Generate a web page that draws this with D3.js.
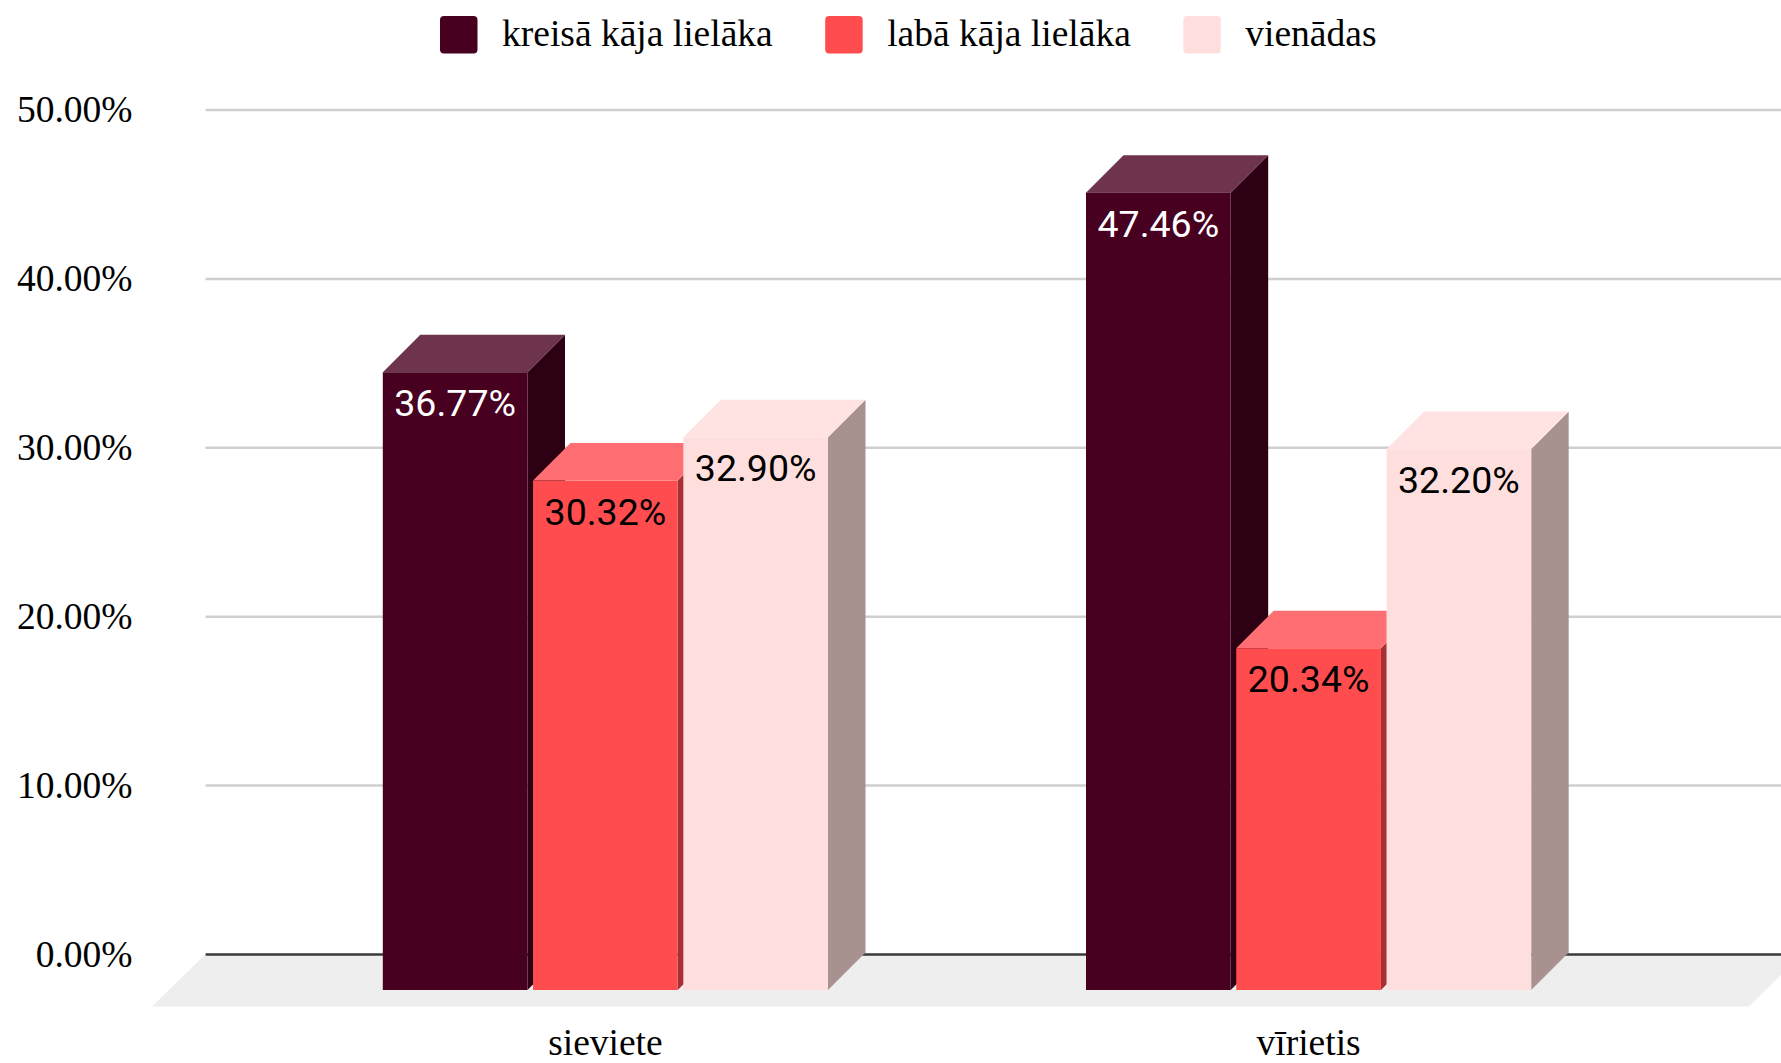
<!DOCTYPE html>
<html>
  <head>
    <meta charset="utf-8" />
    <script src="https://d3js.org/d3.v7.min.js"></script>
    <style>
      html, body { margin: 0; padding: 0; background: #fff; }
      svg { display: block; }
    </style>
    <title>Kāja</title>
  </head>
  <body>
    <svg id="chart" width="1781" height="1063"></svg>
    <script>
      // data
      var categories = ["sieviete", "vīrietis"];
      var seriesNames = ["kreisā kāja lielāka", "labā kāja lielāka", "vienādas"];
      var kreisa = [36.77, 47.46];
      var laba = [30.32, 20.34];
      var vienadas = [32.9, 32.2];
      var seriesValues = [kreisa, laba, vienadas];
      var yTicks = [0, 10, 20, 30, 40, 50];

      // front, top and side colour of each series
      var frontColors = ["#480021", "#ff4d4f", "#ffdfdd"];
      var topColors = ["#6e334d", "#ff6e72", "#ffe3e2"];
      var sideColors = ["#2e0014", "#a63034", "#a8928f"];
      var labelColors = ["#ffffff", "#000000", "#000000"];

      var serif = "'Liberation Serif', serif";
      var svg = d3.select("#chart");
      var depthX = 37.5;
      var depthY = 37.5;
      var gridLeft = 205.6;
      var gridRight = 1781;

      var xCat = d3.scaleBand().domain(categories).range([253.8, 1660.2]);
      var xSeries = d3
        .scaleBand()
        .domain(d3.range(seriesNames.length))
        .range([-222.6, 222.6])
        .paddingInner(0.0372);

      // gridlines sit on the back wall, the bars stand on the front of the floor
      var yGrid = d3.scaleLinear().domain([0, 50]).range([954, 109.5]);
      var yBar = d3.scaleLinear().domain([0, 50]).range([990, 150]);

      // floor
      svg
        .append("path")
        .attr(
          "d",
          d3.line()([
            [gridLeft, yGrid(0)],
            [gridRight, yGrid(0)],
            [gridRight, 975],
            [1749, 1006.5],
            [152, 1006.5],
          ]) + "Z"
        )
        .attr("fill", "#eeeeee");

      // y axis + gridlines
      var yAxis = d3
        .axisLeft(yGrid)
        .tickValues(yTicks)
        .tickSize(0)
        .tickPadding(73)
        .tickFormat((d) => d3.format(".2f")(d) + "%");

      var yG = svg
        .append("g")
        .attr("transform", "translate(" + gridLeft + ",0)")
        .call(yAxis);
      yG.select(".domain").remove();
      yG.selectAll("text")
        .style("font-family", serif)
        .style("font-size", "37.5px")
        .style("fill", "#000");
      yG.selectAll(".tick")
        .append("line")
        .attr("x1", 0)
        .attr("x2", gridRight - gridLeft)
        .attr("stroke", (d) => (d === 0 ? "#3a3a3a" : "#cfcfcf"))
        .attr("stroke-width", 2.5);

      // bars, one series after the other so that later ones cover earlier sides
      seriesNames.forEach(function (name, s) {
        categories.forEach(function (cat, c) {
          var v = seriesValues[s][c];
          var x0 = xCat(cat) + xCat.bandwidth() / 2 + xSeries(s);
          var x1 = x0 + xSeries.bandwidth();
          var yt = yBar(v);
          var yb = yBar(0);
          var g = svg.append("g");

          g.append("path")
            .attr(
              "d",
              d3.line()([
                [x1, yt],
                [x1 + depthX, yt - depthY],
                [x1 + depthX, yb - depthY],
                [x1, yb],
              ]) + "Z"
            )
            .attr("fill", sideColors[s]);
          g.append("path")
            .attr(
              "d",
              d3.line()([
                [x0, yt],
                [x0 + depthX, yt - depthY],
                [x1 + depthX, yt - depthY],
                [x1, yt],
              ]) + "Z"
            )
            .attr("fill", topColors[s]);
          g.append("rect")
            .attr("x", x0)
            .attr("y", yt)
            .attr("width", x1 - x0)
            .attr("height", yb - yt)
            .attr("fill", frontColors[s]);
          g.append("text")
            .attr("x", (x0 + x1) / 2)
            .attr("y", yt + 44)
            .attr("text-anchor", "middle")
            .style("font-family", "Roboto, sans-serif")
            .style("font-size", "37.5px")
            .style("fill", labelColors[s])
            .text(d3.format(".2f")(v) + "%");
        });
      });

      // category labels
      var xAxis = d3.axisBottom(xCat).tickSize(0).tickPadding(21.5);
      var xG = svg
        .append("g")
        .attr("transform", "translate(0,1006.5)")
        .call(xAxis);
      xG.select(".domain").remove();
      xG.selectAll("text")
        .style("font-family", serif)
        .style("font-size", "37.5px")
        .style("fill", "#000");

      // legend
      var legendX = 440;
      seriesNames.forEach(function (name, s) {
        svg
          .append("rect")
          .attr("x", legendX)
          .attr("y", 16)
          .attr("width", 37.5)
          .attr("height", 37.5)
          .attr("rx", 4)
          .attr("fill", frontColors[s]);
        var t = svg
          .append("text")
          .attr("x", legendX + 62)
          .attr("y", 46)
          .style("font-family", serif)
          .style("font-size", "37.5px")
          .style("fill", "#000")
          .text(name);
        legendX += 62 + t.node().getComputedTextLength() + 52.5;
      });
    </script>
  </body>
</html>
